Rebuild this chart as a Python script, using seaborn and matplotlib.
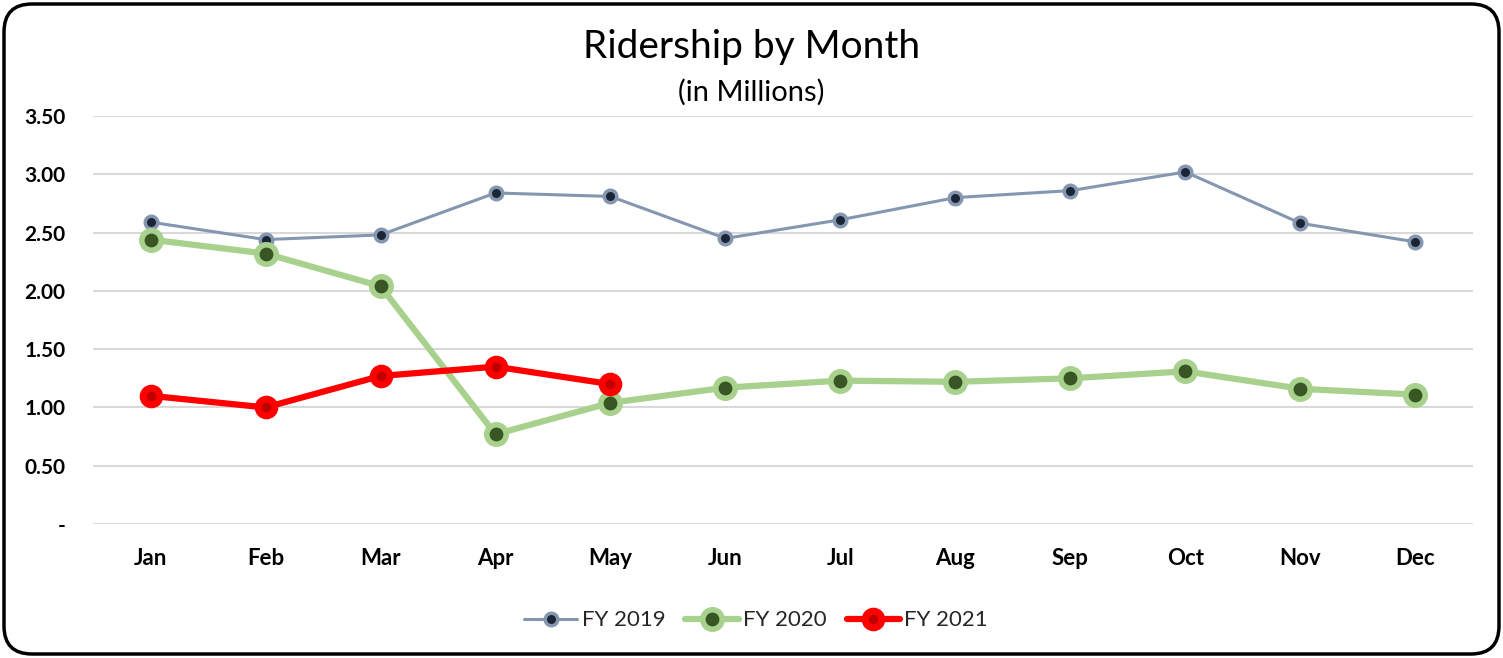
import numpy as np
import pandas as pd
import seaborn as sns
import matplotlib.pyplot as plt
from matplotlib.patches import FancyBboxPatch
from matplotlib.transforms import IdentityTransform
from matplotlib.lines import Line2D

months = ["Jan", "Feb", "Mar", "Apr", "May", "Jun", "Jul", "Aug", "Sep", "Oct", "Nov", "Dec"]
fy2019 = [2.59, 2.44, 2.48, 2.84, 2.81, 2.45, 2.61, 2.80, 2.86, 3.02, 2.58, 2.42]
fy2020 = [2.44, 2.32, 2.04, 0.77, 1.04, 1.17, 1.23, 1.22, 1.25, 1.31, 1.16, 1.11]
fy2021 = [1.10, 1.00, 1.27, 1.35, 1.20]
yticks = [0, 0.5, 1.0, 1.5, 2.0, 2.5, 3.0, 3.5]
ytick_labels = ["-", "0.50", "1.00", "1.50", "2.00", "2.50", "3.00", "3.50"]

sns.set_style("white")
plt.rcParams["font.family"] = ["Lato", "DejaVu Sans"]

fig = plt.figure(figsize=(15.03, 6.58), dpi=100)
ax = fig.add_axes([0.0619, 0.2036, 0.9181, 0.6201])

styles = {
    "FY 2019": dict(color="#8496b0", lw=2.2, ms=9, mfc="#1c2536", mec="#8496b0", mew=2.5),
    "FY 2020": dict(color="#a9d18e", lw=4.5, ms=14, mfc="#375623", mec="#a9d18e", mew=4),
    "FY 2021": dict(color="#ff0000", lw=4.5, ms=12, mfc="#c00000", mec="#ff0000", mew=5),
}
series = {"FY 2019": fy2019, "FY 2020": fy2020, "FY 2021": fy2021}

for name, vals in series.items():
    st = styles[name]
    df = pd.DataFrame({"x": np.arange(len(vals)), "y": vals})
    sns.lineplot(
        data=df, x="x", y="y", ax=ax, color=st["color"], lw=st["lw"],
        marker="o", markersize=st["ms"], markerfacecolor=st["mfc"],
        markeredgecolor=st["mec"], markeredgewidth=st["mew"], zorder=3,
    )

ax.set_xlim(-0.5, 11.5)
ax.set_ylim(0, 3.5)
ax.set_yticks(yticks)
ax.set_yticklabels(ytick_labels)
ax.set_xticks(np.arange(len(months)))
ax.set_xticklabels(months)
ax.set_xlabel(None)
ax.set_ylabel(None)
ax.grid(True, axis="y", color="#d9d9d9", lw=1.5)
ax.set_axisbelow(True)
for s in ax.spines.values():
    s.set_visible(False)
ax.tick_params(axis="both", length=0, labelsize=16, colors="black")
ax.tick_params(axis="y", labelsize=15, pad=20)
ax.tick_params(axis="x", pad=17)
for lbl in ax.get_xticklabels() + ax.get_yticklabels():
    lbl.set_fontweight("bold")

handles = []
for name in series:
    st = styles[name]
    handles.append(Line2D([], [], color=st["color"], lw=st["lw"], marker="o",
                          markersize=st["ms"], markerfacecolor=st["mfc"],
                          markeredgecolor=st["mec"], markeredgewidth=st["mew"]))
fig.legend(handles, list(series.keys()), loc="center", bbox_to_anchor=(0.503, 0.057),
           ncol=3, frameon=False, fontsize=16, handlelength=2.4, columnspacing=0.9,
           handletextpad=0.2)

fig.text(0.5, 0.928, "Ridership by Month", ha="center", va="center", fontsize=28, color="black")
fig.text(0.5, 0.86, "(in Millions)", ha="center", va="center", fontsize=21, color="black")

fig.add_artist(FancyBboxPatch((4, 4), 1495, 650, boxstyle="round,pad=0,rounding_size=28",
                              transform=IdentityTransform(), fill=False, ec="black", lw=2.5))

fig.savefig("out.png", dpi=100)
